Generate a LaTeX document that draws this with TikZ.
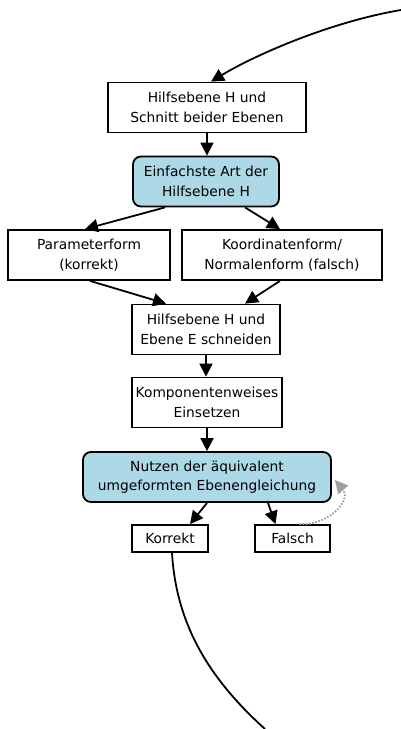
\documentclass[tikz,border=0pt]{standalone}
\usepackage{fontspec}
\setmainfont{DejaVu Sans}
\usetikzlibrary{arrows.meta}
\definecolor{lightblue}{RGB}{173,216,230}
\definecolor{loopgray}{RGB}{160,160,160}
\begin{document}
\begin{tikzpicture}[x=1pt,y=-1pt,
  box/.style={draw=black, line width=1.8pt, fill=white, align=center, inner sep=1pt, minimum height=50, font=\fontsize{13.8}{19.5}\selectfont},
  hbox/.style={box, fill=lightblue, rounded corners=8pt},
  small/.style={box, minimum height=27},
  arr/.style={line width=1.8pt, -{Triangle[length=13pt,width=13pt]}},
  back/.style={line width=1.8pt, loopgray, dash pattern=on 1.6pt off 1.6pt, -{Triangle[length=13pt,width=13pt]}}]
\useasboundingbox (0,0) rectangle (401,729);
\node[box, minimum width=198] (h1) at (207,107.5) {Hilfsebene H und\\Schnitt beider Ebenen};
\node[hbox, minimum width=146] (art) at (206,181.5) {Einfachste Art der\\Hilfsebene H};
\node[box, minimum width=162] (pf) at (89,255) {Parameterform\\(korrekt)};
\node[box, minimum width=200] (kf) at (282,255) {Koordinatenform/\\Normalenform (falsch)};
\node[box, minimum width=148] (sn) at (206,329.5) {Hilfsebene H und\\Ebene E schneiden};
\node[box, minimum width=150] (ke) at (207,402.5) {Komponentenweises\\Einsetzen};
\node[hbox, minimum width=248] (nu) at (207,477) {Nutzen der äquivalent\\umgeformten Ebenengleichung};
\node[small, minimum width=76] (ko) at (170,538.5) {Korrekt};
\node[small, minimum width=75] (fa) at (292.5,538.5) {Falsch};
\coordinate (start) at (401,10);
\coordinate (ende) at (265,729);
\draw[arr] (start) .. controls (330,22) and (255,55) .. ([xshift=4]h1.north);
\draw[arr] (h1.south) -- (h1.south |- art.north);
\draw[arr] ([xshift=-41]art.south) -- ([xshift=-4]pf.north);
\draw[arr] ([xshift=39]art.south) -- ([xshift=-2]kf.north);
\draw[arr] ([xshift=1]pf.south) -- ([xshift=-40]sn.north);
\draw[arr] ([xshift=-2]kf.south) -- ([xshift=39]sn.north);
\draw[arr] (sn.south) -- (sn.south |- ke.north);
\draw[arr] (ke.south) -- (ke.south |- nu.north);
\draw[arr] (nu.south) -- ([xshift=20]ko.north);
\draw[arr] ([xshift=61]nu.south) -- ([xshift=-17]fa.north);
\draw[back] ([xshift=7]fa.north) .. controls (328,526) and (352,500) .. ([xshift=3,yshift=-3]nu.east);
\draw[line width=1.8pt] ([xshift=2]ko.south) .. controls (176,620) and (205,675) .. (ende);
\end{tikzpicture}
\end{document}
